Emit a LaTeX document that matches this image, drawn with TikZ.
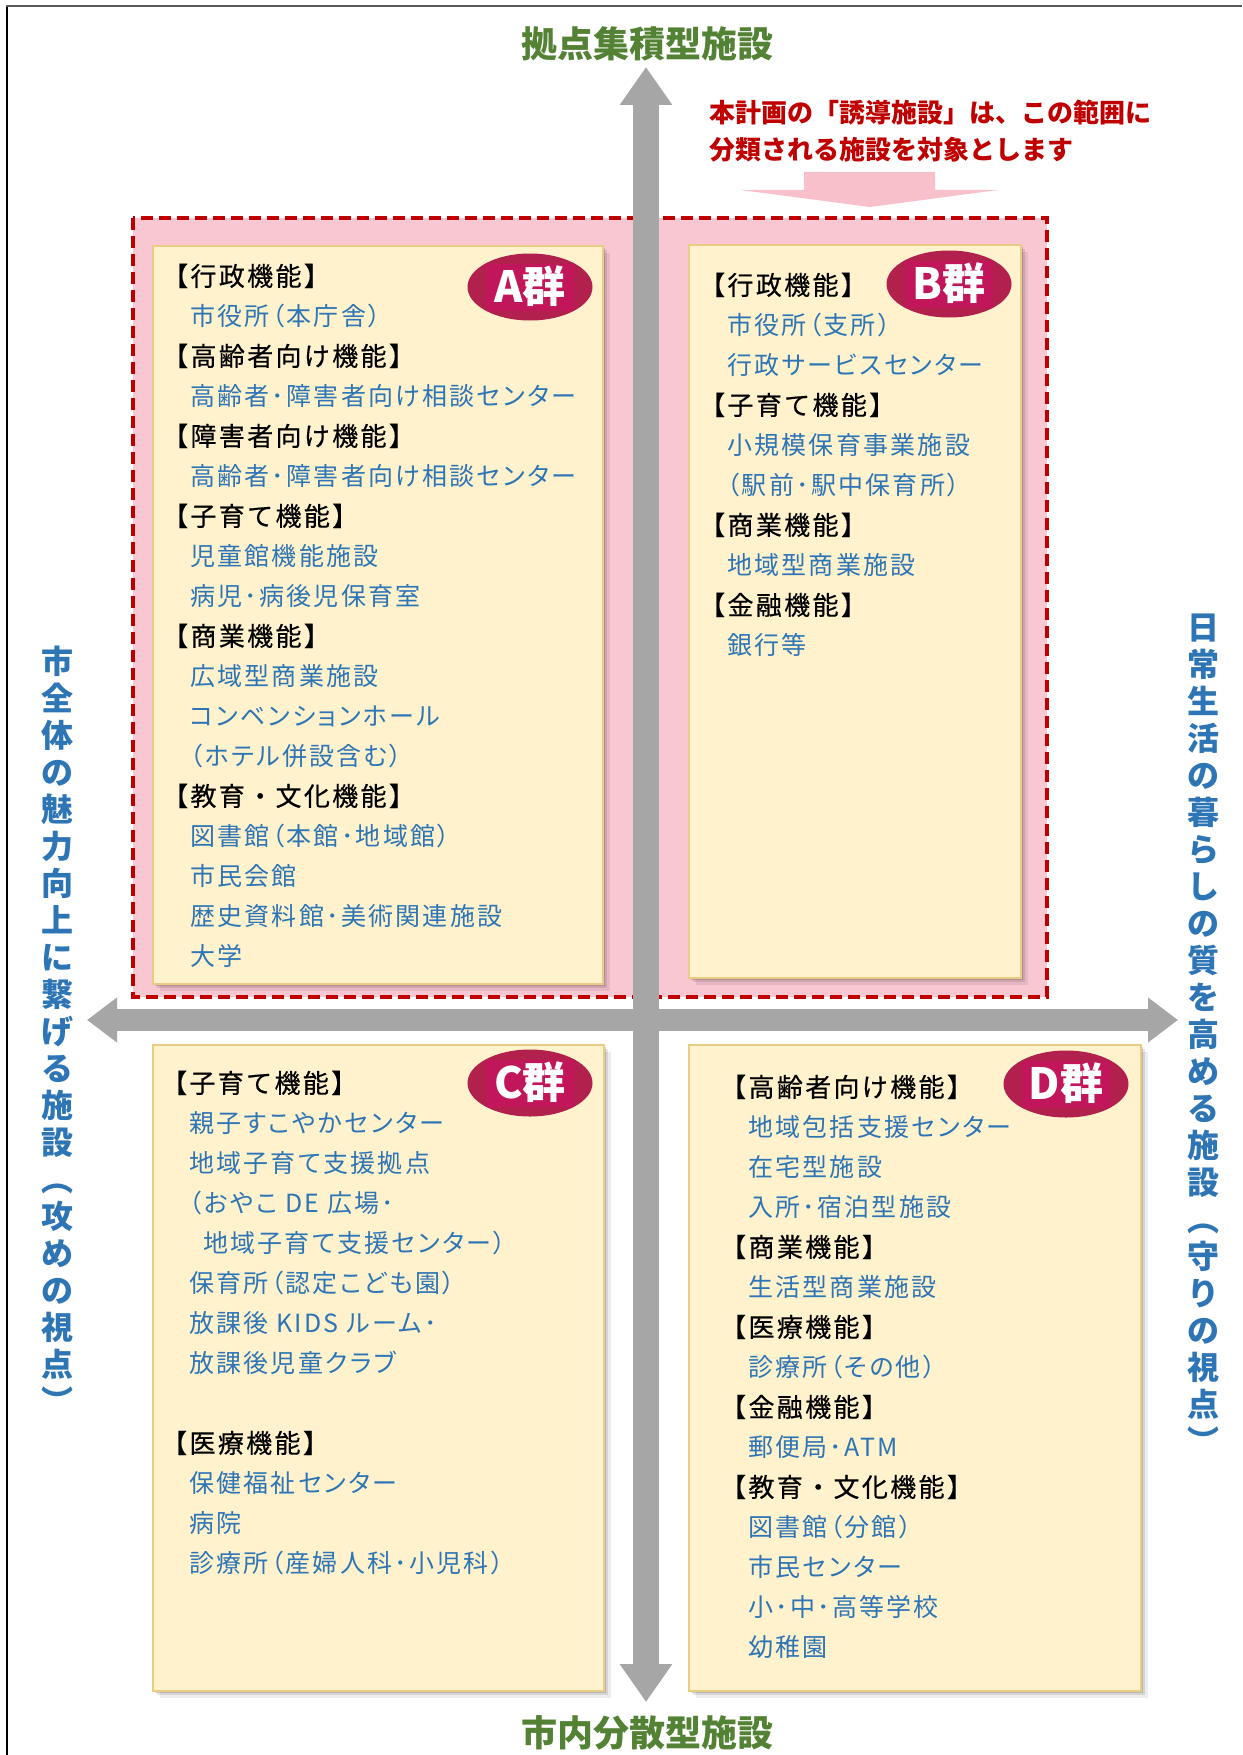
\documentclass[tikz,border=0pt]{standalone}
\usepackage{fontspec}
\usetikzlibrary{arrows.meta,shapes.geometric,shadows}
\newfontfamily\jp{Noto Sans CJK JP}
\newfontfamily\jphd{Noto Sans CJK JP}[FakeBold=0.5, LetterSpace=9]
\newfontfamily\jpit{Noto Sans CJK JP}[RawFeature=+palt, LetterSpace=9]
\definecolor{itemblue}{RGB}{46,117,182}
\definecolor{titlegreen}{RGB}{84,130,53}
\definecolor{notered}{RGB}{192,0,0}
\definecolor{pinkfill}{RGB}{248,199,210}
\definecolor{pinkarrow}{RGB}{248,192,203}
\definecolor{panelfill}{RGB}{255,242,204}
\definecolor{panelborder}{RGB}{234,205,130}
\definecolor{badgecol}{RGB}{178,32,78}
\definecolor{badgein}{RGB}{194,22,90}
\definecolor{axisgray}{RGB}{166,166,166}
\begin{document}
\begin{tikzpicture}[x=1pt,y=-1pt,
  txtbase/.style={inner sep=0pt, anchor=west, text height=0.88em, text depth=0.12em},
  hdtxt/.style={txtbase, text=black, yshift=-6pt, font={\jphd\fontsize{26}{26}\selectfont}},
  ittxt/.style={txtbase, text=itemblue, yshift=-6pt, font={\jpit\fontsize{25}{25}\selectfont}, xshift=28pt},
  ittxtb/.style={ittxt, xshift=14pt},
  panel/.style={draw=panelborder, fill=panelfill, line width=1.5pt, anchor=north west, inner sep=0pt,
    drop shadow={shadow xshift=7pt,shadow yshift=-7pt,opacity=0.07,fill=black},
    drop shadow={shadow xshift=4.5pt,shadow yshift=-4.5pt,opacity=0.1,fill=black},
    drop shadow={shadow xshift=2.5pt,shadow yshift=-2.5pt,opacity=0.14,fill=black}},
  badge/.style={ellipse, fill=badgecol, minimum width=125pt, minimum height=67pt, inner sep=0pt},
  badgerect/.style={fill=badgein, minimum width=88pt, minimum height=47pt, inner sep=0pt},
  badgetxt/.style={text=white, inner sep=0pt, text height=0.88em, text depth=0.12em, yshift=-12pt, font={\jp\bfseries\fontsize{43}{43}\selectfont}},
  titletxt/.style={inner sep=0pt, text=titlegreen, yshift=-9pt, text height=0.88em, text depth=0.12em, font={\jp\bfseries\fontsize{36}{36}\selectfont}},
  notetxt/.style={txtbase, text=notered, yshift=-4pt, font={\jp\bfseries\fontsize{26}{26}\selectfont}},
  sidetxt/.style={inner sep=0pt, align=center, text=itemblue, font={\jp\bfseries\fontsize{32}{37}\selectfont}},
  axis/.style={draw=axisgray}
]
\useasboundingbox (0,0) rectangle (1242,1755);
\fill[white] (0,0) rectangle (1242,1755);
% frame
\draw[line width=1.5pt, black] (7,6) -- (7,1755);
\draw[line width=2.5pt, black!65] (6,6) -- (1242,6);

% titles
\node[titletxt] (ttop) at (647,45) {拠点集積型施設};
\node[titletxt] (tbot) at (647,1734) {市内分散型施設};

% note
\node[notetxt] (note1) at (709,115) {本計画の「誘導施設」は、この範囲に};
\node[notetxt] (note2) at (709,152) {分類される施設を対象とします};
\fill[pinkarrow] (804,172) -- (935,172) -- (935,190) -- (998,190) -- (870,207) -- (741,190) -- (804,190) -- cycle;

% induced area
\draw[fill=pinkfill, draw=notered, line width=4pt, dash pattern=on 12pt off 6pt] (133,218) rectangle (1047,997);

% panels
\node[panel, minimum width=450pt, minimum height=738pt] (boxA) at (152,245) {};
\node[panel, minimum width=332pt, minimum height=733pt] (boxB) at (688,244) {};
\node[panel, minimum width=451pt, minimum height=646pt] (boxC) at (152,1044) {};
\node[panel, minimum width=452pt, minimum height=646pt] (boxD) at (688,1044) {};

% badges
\node[badge] (bA) at (530,287) {};
\node[badgerect] (rA) at (bA.center) {};
\node[badgetxt] (tA) at (bA.center) {A群};
\node[badge] (bB) at (949,284) {};
\node[badgerect] (rB) at (bB.center) {};
\node[badgetxt] (tB) at (bB.center) {B群};
\node[badge] (bC) at (530,1083) {};
\node[badgerect] (rC) at (bC.center) {};
\node[badgetxt] (tC) at (bC.center) {C群};
\node[badge] (bD) at (1066,1084) {};
\node[badgerect] (rD) at (bD.center) {};
\node[badgetxt] (tD) at (bD.center) {D群};

% A texts
\foreach \k/\t [count=\i] in {
  hdtxt/【行政機能】, ittxt/市役所（本庁舎）, hdtxt/【高齢者向け機能】, ittxt/高齢者･障害者向け相談センター,
  hdtxt/【障害者向け機能】, ittxt/高齢者･障害者向け相談センター, hdtxt/【子育て機能】, ittxt/児童館機能施設,
  ittxt/病児･病後児保育室, hdtxt/【商業機能】, ittxt/広域型商業施設, ittxt/コンベンションホール,
  ittxt/（ホテル併設含む）, hdtxt/【教育・文化機能】, ittxt/図書館（本館･地域館）, ittxt/市民会館,
  ittxt/歴史資料館･美術関連施設, ittxt/大学}
  \node[\k] (A\i) at (162,{276+40*(\i-1)}) {\t};

% B texts
\foreach \k/\t [count=\i] in {
  hdtxt/【行政機能】, ittxt/市役所（支所）, ittxt/行政サービスセンター, hdtxt/【子育て機能】,
  ittxt/小規模保育事業施設, ittxt/（駅前･駅中保育所）, hdtxt/【商業機能】, ittxt/地域型商業施設,
  hdtxt/【金融機能】, ittxt/銀行等}
  \node[\k] (B\i) at (699,{285+40*(\i-1)}) {\t};

% C texts
\foreach \k/\t [count=\i] in {
  hdtxt/【子育て機能】, ittxt/親子すこやかセンター, ittxt/地域子育て支援拠点, ittxt/（おやこ DE 広場･,
  ittxtb/地域子育て支援センター）, ittxt/保育所（認定こども園）, ittxt/放課後 KIDS ルーム･, ittxt/放課後児童クラブ}
  \node[\k] (C\i) at (161,{1083+40*(\i-1)}) {\t};
\foreach \k/\t [count=\i] in {
  hdtxt/【医療機能】, ittxt/保健福祉センター, ittxt/病院, ittxt/診療所（産婦人科･小児科）}
  \node[\k] (Cm\i) at (161,{1443+40*(\i-1)}) {\t};

% D texts
\foreach \k/\t [count=\i] in {
  hdtxt/【高齢者向け機能】, ittxt/地域包括支援センター, ittxt/在宅型施設, ittxt/入所･宿泊型施設,
  hdtxt/【商業機能】, ittxt/生活型商業施設, hdtxt/【医療機能】, ittxt/診療所（その他）,
  hdtxt/【金融機能】, ittxt/郵便局･ATM, hdtxt/【教育・文化機能】, ittxt/図書館（分館）,
  ittxt/市民センター, ittxt/小･中･高等学校, ittxt/幼稚園}
  \node[\k] (D\i) at (720,{1087+40*(\i-1)}) {\t};

% side labels
\node[sidetxt] (sideL) at (57,1030) {市\\全\\体\\の\\魅\\力\\向\\上\\に\\繋\\げ\\る\\施\\設\\︵\\攻\\め\\の\\視\\点\\︶};
\node[sidetxt] (sideR) at (1203,1034) {日\\常\\生\\活\\の\\暮\\ら\\し\\の\\質\\を\\高\\め\\る\\施\\設\\︵\\守\\り\\の\\視\\点\\︶};

% axes
\coordinate (hl) at (87,1020);
\coordinate (hr) at (1178,1020);
\coordinate (vt) at (646,67);
\coordinate (vb) at (646,1702);
\draw[axis, line width=22pt, {Triangle[length=30pt,width=43pt]}-{Triangle[length=30pt,width=43pt]}] (hl) -- (hr);
\draw[axis, line width=26pt, {Triangle[length=38pt,width=50pt]}-{Triangle[length=38pt,width=50pt]}] (vb) -- (vt);
\end{tikzpicture}
\end{document}
